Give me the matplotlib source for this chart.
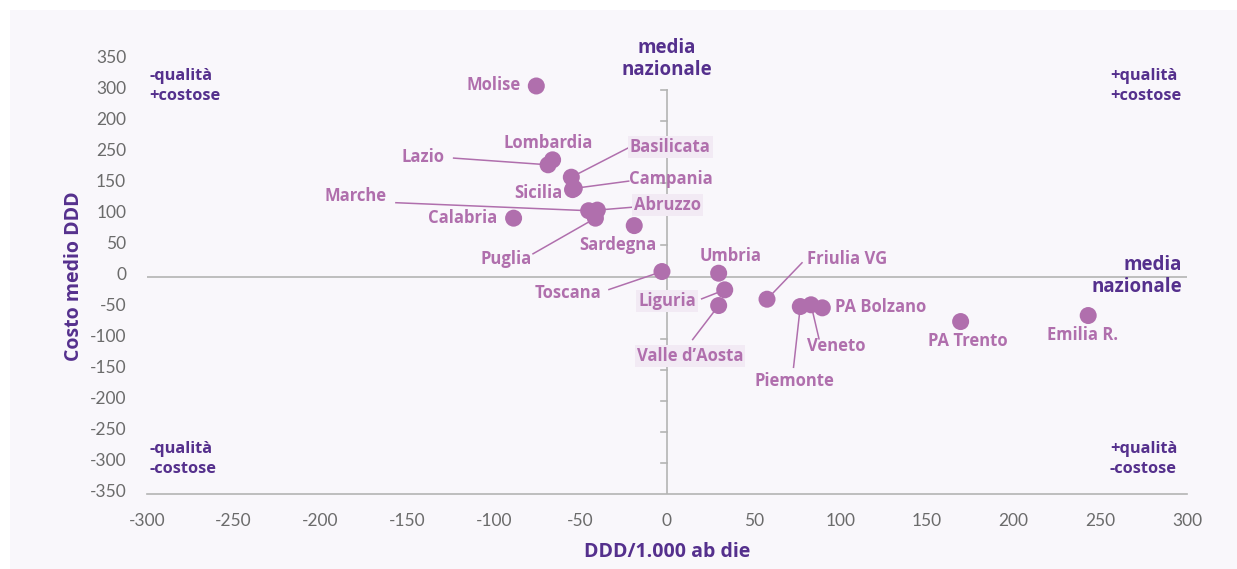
import numpy as np
import matplotlib
matplotlib.use("Agg")
import matplotlib.pyplot as plt
import matplotlib.transforms as mtransforms
from matplotlib.patches import Rectangle

# data
regions = ["Molise", "Lombardia", "Lazio", "Basilicata", "Campania", "Sicilia",
           "Marche", "Abruzzo", "Puglia", "Calabria", "Sardegna", "Toscana",
           "Umbria", "Liguria", "Valle d\u2019Aosta", "Friulia VG", "Piemonte",
           "Veneto", "PA Bolzano", "PA Trento", "Emilia R."]
ddd = [-75.4, -66.0, -68.6, -55.2, -53.5, -54.5,
       -45.2, -40.2, -41.3, -88.5, -18.9, -2.9,
       29.8, 33.3, 29.8, 57.7, 76.9,
       83.1, 89.6, 169.4, 243.0]
costo = [307, 188, 180, 160, 142, 140,
         106, 107, 94, 94, 82, 8,
         5.3, -21.5, -46.8, -36.6, -48.4,
         -45.6, -50.5, -72.6, -62.9]

x_ticks = [-300, -250, -200, -150, -100, -50, 0, 50, 100, 150, 200, 250, 300]
y_ticks = [350, 300, 250, 200, 150, 100, 50, 0, -50, -100, -150, -200, -250, -300, -350]
# the source labels 200 and 250 in swapped order
y_ticklabels = ["350", "300", "200", "250", "150", "100", "50", "0",
                "-50", "-100", "-150", "-200", "-250", "-300", "-350"]

# label placement: (x, y, ha, leader start or None, boxed)
label_pos = {
    "Molise": (-99.8, 308, "center", None, False),
    "Lombardia": (-68.7, 214.5, "center", None, False),
    "Lazio": (-140.8, 192, "center", (-123.1, 190.8), False),
    "Basilicata": (-21.4, 208, "left", (-22.1, 207.6), True),
    "Campania": (-21.9, 156.5, "left", (-22.1, 153.7), False),
    "Sicilia": (-74.4, 134, "center", None, False),
    "Marche": (-179.5, 129, "center", (-156.4, 118.9), False),
    "Abruzzo": (-19.0, 114.5, "left", (-19.2, 111.8), True),
    "Puglia": (-92.9, 27.4, "center", (-77.3, 36.6), False),
    "Calabria": (-117.7, 93.5, "center", None, False),
    "Sardegna": (-28.3, 50, "center", None, False),
    "Toscana": (-57.1, -25.8, "center", (-33.5, -21), False),
    "Umbria": (36.9, 32.3, "center", None, False),
    "Liguria": (0.0, -38.7, "center", (20.0, -36), True),
    "Valle d\u2019Aosta": (13.3, -127.4, "center", (14.8, -101.6), True),
    "Friulia VG": (80.8, 27.4, "left", (77.9, 22.1), False),
    "Piemonte": (73.3, -167.7, "center", (73.0, -146.3), False),
    "Veneto": (97.5, -111.3, "center", (87.7, -100.5), False),
    "PA Bolzano": (96.9, -48.4, "left", None, False),
    "PA Trento": (173.7, -103.2, "center", None, False),
    "Emilia R.": (240.0, -93.5, "center", None, False),
}

DOT = "#b06fad"
DARK = "#55308d"
GRID = "#b4b4b4"
PANEL = "#f9f7fb"
BOLD = ['Open Sans', 'DejaVu Sans']

plt.rcParams['font.family'] = ['Lato', 'DejaVu Sans']

fig = plt.figure(figsize=(12.37, 5.69), dpi=100, facecolor="white")
fig.patches.append(Rectangle((10 / 1237, 0), 1, 559 / 569, transform=fig.transFigure,
                             facecolor=PANEL, edgecolor="none", zorder=-10))
ax = fig.add_axes([147 / 1237, 75.3 / 569, 1040 / 1237, 434.4 / 569])
ax.set_facecolor("none")

ax.set_xlim(-300, 300)
ax.set_ylim(-350, 350)
for side in ["top", "right", "left"]:
    ax.spines[side].set_visible(False)
ax.spines["bottom"].set_color(GRID)
ax.spines["bottom"].set_linewidth(1.2)

ax.set_xticks(x_ticks)
ax.set_xticklabels([str(v) for v in x_ticks])
ax.set_yticks(y_ticks)
ax.set_yticklabels(y_ticklabels)
ax.tick_params(axis="both", length=0, labelsize=12.5, labelcolor="#6b6b6b")
ax.tick_params(axis="y", pad=15)
ax.tick_params(axis="x", pad=14)
shift = mtransforms.ScaledTranslation(0, 3 / 100, fig.dpi_scale_trans)
for lbl in ax.get_yticklabels():
    lbl.set_transform(lbl.get_transform() + shift)

# central reference lines
ax.axhline(0, color=GRID, lw=1.2, zorder=1)
ax.plot([0, 0], [-350, 300], color=GRID, lw=1.2, zorder=1)
for yv in range(-300, 301, 50):
    if yv == 0:
        continue
    ax.plot([-3.2, 0], [yv, yv], color=GRID, lw=1.2, zorder=1)

# leader lines
for name, (tx, ty, ha, start, boxed) in label_pos.items():
    if start is None:
        continue
    i = regions.index(name)
    ax.plot([start[0], ddd[i]], [start[1], costo[i]], color=DOT, lw=1.1, zorder=2)

ax.scatter(ddd, costo, s=150, color=DOT, edgecolors="none", zorder=3)

for name, (tx, ty, ha, start, boxed) in label_pos.items():
    bbox = None
    if boxed:
        bbox = dict(boxstyle="square,pad=0.12", facecolor="#f2eaf4", edgecolor="none")
    ax.text(tx, ty, name, ha=ha, va="center", fontsize=12, fontweight="bold",
            family=BOLD, color=DOT, bbox=bbox, zorder=4)

# reference captions
ax.text(0, 351, "media\nnazionale", ha="center", va="center", fontsize=13.5,
        fontweight="bold", family=BOLD, color=DARK, linespacing=1.15)
ax.text(297, 1, "media\nnazionale", ha="right", va="center", fontsize=13.5,
        fontweight="bold", family=BOLD, color=DARK, linespacing=1.15)

quad = [(-298.5, 307, "left", "-qualità\n+costose"),
        (255.5, 307, "left", "+qualità\n+costose"),
        (-298.5, -294, "left", "-qualità\n-costose"),
        (255.5, -294, "left", "+qualità\n-costose")]
for qx, qy, qha, qtxt in quad:
    ax.text(qx, qy, qtxt, ha=qha, va="center", fontsize=11.8, fontweight="bold",
            family=BOLD, color=DARK, linespacing=1.4)

ax.set_xlabel("DDD/1.000 ab die", fontsize=14, fontweight="bold", family=BOLD,
              color=DARK, labelpad=9)
ax.set_ylabel("Costo medio DDD", fontsize=14, fontweight="bold", family=BOLD,
              color=DARK, labelpad=4)

fig.savefig("out.png", dpi=100, facecolor=fig.get_facecolor())
